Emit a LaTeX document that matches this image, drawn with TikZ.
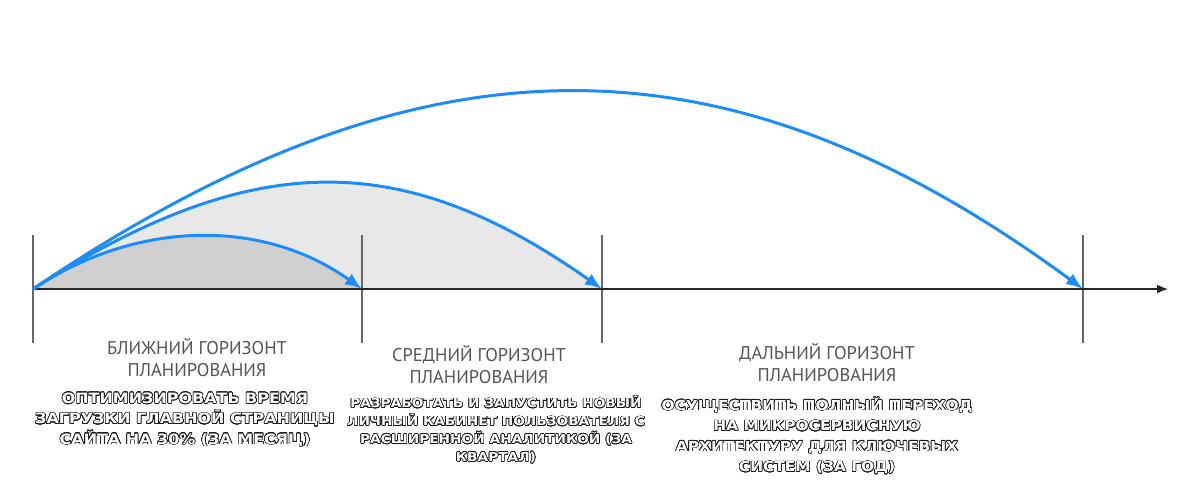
\documentclass[tikz,border=0pt]{standalone}
\usepackage{fontspec}
\setmainfont{PT Sans}
\newfontfamily\widefont[FakeStretch=1.12]{DejaVu Sans}
\usepackage[copies]{contour}
\contourlength{0.6pt}
\contournumber{24}
\usetikzlibrary{arrows.meta}
\definecolor{arcblue}{HTML}{1C8CF7}
\definecolor{nearfill}{HTML}{D0D0D0}
\definecolor{midfill}{HTML}{E8E8E8}
\definecolor{labelgray}{HTML}{555555}
\definecolor{tickgray}{HTML}{666666}
\newcommand\hollowline[1]{\contour{black!90}{#1}}
\begin{document}
\begin{tikzpicture}[x=1bp,y=1bp]
		\tikzstyle{every node}+=[inner sep=0pt]
		\tikzstyle{arc}=[arcblue, line width=3bp, -{Latex[length=17bp,width=13bp]}]
		\tikzstyle{axisline}=[black!85, line width=1.4bp, -{Latex[length=11bp,width=9bp]}]
		\tikzstyle{tickline}=[tickgray, line width=1.4bp]
		\tikzstyle{horizon}=[labelgray, align=center, font=\fontsize{18.5}{22}\selectfont]
		\tikzstyle{goal}=[text=white, align=center, font=\widefont\bfseries\fontsize{14.3}{20.5}\selectfont]
		\useasboundingbox (0,0) rectangle (1200,-480);
		\coordinate (t0) at (33,-289);
		\coordinate (t1) at (362,-289);
		\coordinate (t2) at (602,-289);
		\coordinate (t3) at (1083,-289);
		\coordinate (axisend) at (1168,-289);
		\fill [midfill] (t0) .. controls (253,-148) and (402,-148) .. (t2) -- cycle;
		\fill [nearfill] (t0) .. controls (138,-219) and (264,-219) .. (t1) -- cycle;
		\draw [tickline] (t0) ++(0,54) -- ++(0,-108);
		\draw [tickline] (t1) ++(0,54) -- ++(0,-108);
		\draw [tickline] (t2) ++(0,54) -- ++(0,-108);
		\draw [tickline] (t3) ++(0,54) -- ++(0,-108);
		\draw [axisline] (t0) -- (axisend);
		\draw [arc] (t0) .. controls (138,-219) and (264,-219) .. (t1);
		\draw [arc] (t0) .. controls (253,-148) and (402,-148) .. (t2);
		\draw [arc] (t0) .. controls (423,-26) and (725,-26) .. (t3);
		\draw (197,-358) node [horizon] (nearlbl) {БЛИЖНИЙ ГОРИЗОНТ\\ПЛАНИРОВАНИЯ};
		\draw (479,-365) node [horizon] (midlbl) {СРЕДНИЙ ГОРИЗОНТ\\ПЛАНИРОВАНИЯ};
		\draw (827,-363) node [horizon] (farlbl) {ДАЛЬНИЙ ГОРИЗОНТ\\ПЛАНИРОВАНИЯ};
		\draw (185,-420) node [goal] (neargoal) {\hollowline{ОПТИМИЗИРОВАТЬ ВРЕМЯ}\\\hollowline{ЗАГРУЗКИ ГЛАВНОЙ СТРАНИЦЫ}\\\hollowline{САЙТА НА 30\% (ЗА МЕСЯЦ)}};
		\draw (496,-430) node [goal, font=\widefont\bfseries\fontsize{12.3}{18}\selectfont] (midgoal) {\hollowline{РАЗРАБОТАТЬ И ЗАПУСТИТЬ НОВЫЙ}\\\hollowline{ЛИЧНЫЙ КАБИНЕТ ПОЛЬЗОВАТЕЛЯ С}\\\hollowline{РАСШИРЕННОЙ АНАЛИТИКОЙ (ЗА}\\\hollowline{КВАРТАЛ)}};
		\draw (817,-436) node [goal, font=\widefont\bfseries\fontsize{13.8}{20.5}\selectfont] (fargoal) {\hollowline{ОСУЩЕСТВИТЬ ПОЛНЫЙ ПЕРЕХОД}\\\hollowline{НА МИКРОСЕРВИСНУЮ}\\\hollowline{АРХИТЕКТУРУ ДЛЯ КЛЮЧЕВЫХ}\\\hollowline{СИСТЕМ (ЗА ГОД)}};
\end{tikzpicture}
\end{document}
